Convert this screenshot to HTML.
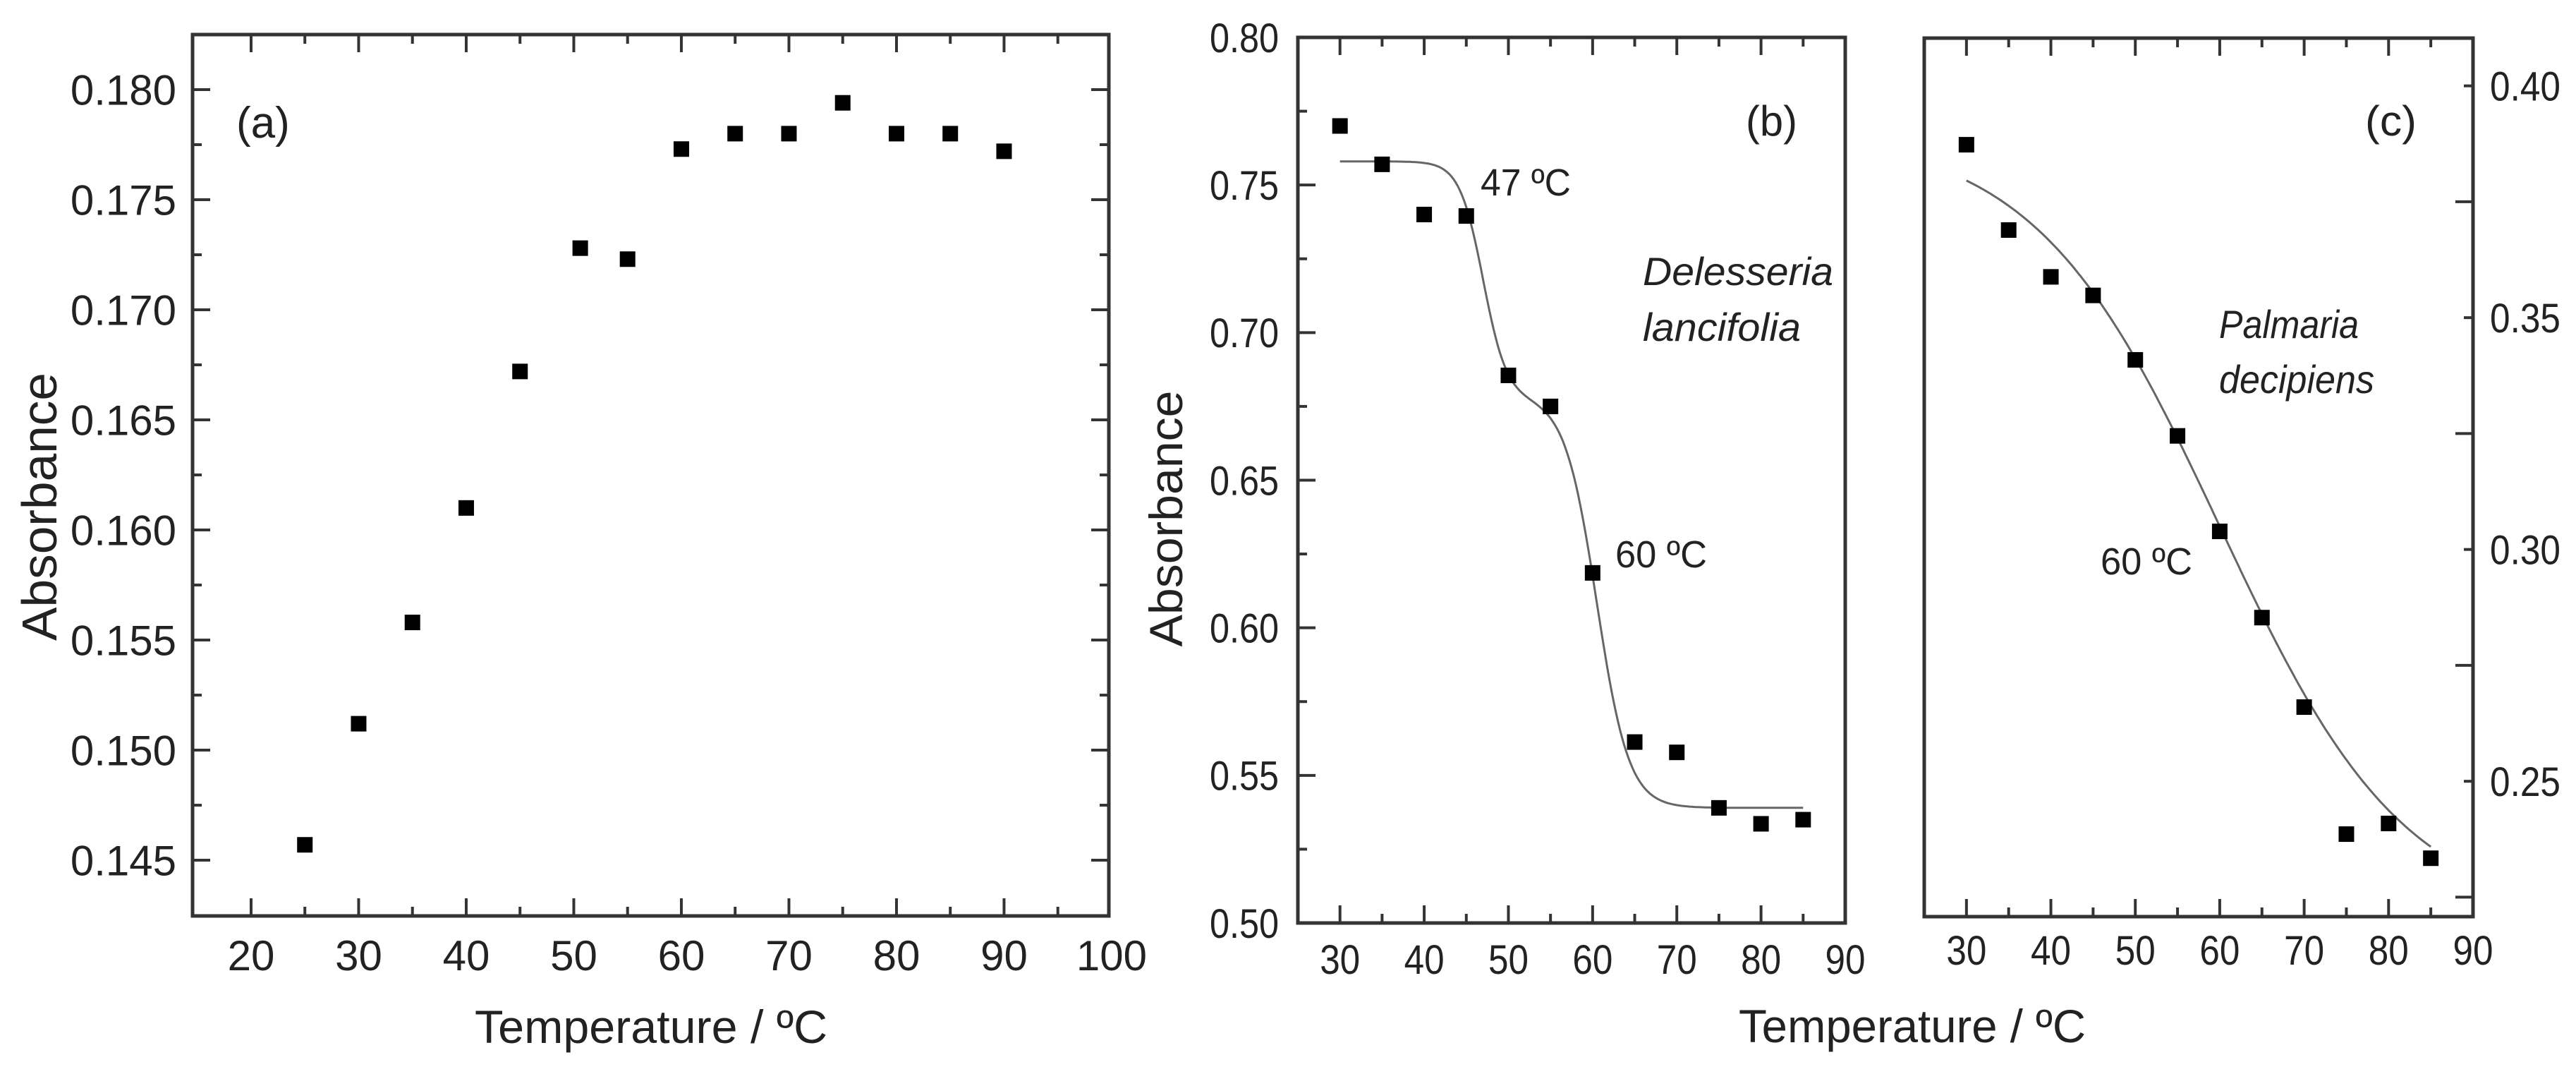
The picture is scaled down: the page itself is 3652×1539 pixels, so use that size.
<!DOCTYPE html>
<html><head><meta charset="utf-8"><style>
html,body{margin:0;padding:0;background:#fff}
svg{display:block}
text{font-family:"Liberation Sans",sans-serif;fill:#222}
.n{font-family:"Liberation Sans Narrow","Liberation Sans",sans-serif}
</style></head><body>
<svg id="fig" width="3652" height="1539" viewBox="0 0 3652 1539" xmlns="http://www.w3.org/2000/svg"></svg>
<script>
// Panel (a) data
const aTemps = [25,30,35,40,45,50.6,55,60,65,70,75,80,85,90];
const aAbs = [0.1457,0.1512,0.1558,0.1610,0.1672,0.1728,0.1723,0.1773,0.1780,0.1780,0.1794,0.1780,0.1780,0.1772];
const aXTicks = [20,30,40,50,60,70,80,90,100];
const aYTicks = [0.145,0.150,0.155,0.160,0.165,0.170,0.175,0.180];
// Panel (b) data
const bTemps = [30,35,40,45,50,55,60,65,70,75,80,85];
const bAbs = [0.770,0.757,0.740,0.7395,0.6855,0.675,0.6186,0.5613,0.5578,0.539,0.5336,0.535];
const bFitParams = [0.758,0.08,47,1.4,0.139,60.5,1.9]; // top, step1, Tm1, w1, step2, Tm2, w2
const bXTicks = [30,40,50,60,70,80,90];
const bYTicks = [0.50,0.55,0.60,0.65,0.70,0.75,0.80];
// Panel (c) data
const cTemps = [30,35,40,45,50,55,60,65,70,75,80,85];
const cAbs = [0.3873,0.3689,0.3588,0.3548,0.3409,0.3245,0.3039,0.2853,0.2660,0.2386,0.2409,0.2334];
const cFitParams = [0.39,0.22,60,11]; // upper, lower, Tm, width
const cXTicks = [30,40,50,60,70,80,90];
const cYTicks = [0.25,0.30,0.35,0.40];

const NS="http://www.w3.org/2000/svg";
const svg=document.getElementById('fig');
function mk(tag,attrs,parent){const e=document.createElementNS(NS,tag);for(const k in attrs)e.setAttribute(k,attrs[k]);(parent||svg).appendChild(e);return e;}
function txt(s,attrs,parent){const e=mk('text',attrs,parent);e.textContent=s;return e;}

function panel(cfg){
  const g=mk('g',{});
  
  
  const X=v=>cfg.x0+(v-cfg.xmin)*(cfg.x1-cfg.x0)/(cfg.xmax-cfg.xmin);
  const Y=v=>cfg.y1-(v-cfg.ymin)*(cfg.y1-cfg.y0)/(cfg.ymax-cfg.ymin);
  const tg=mk('g',{stroke:'#333','stroke-width':4},g);
  
  
  for(let v=cfg.xTickStart;v<=cfg.xmax+1e-9;v+=cfg.xMinor){
    const major=Math.abs((v-cfg.xTickStart)%(2*cfg.xMinor))<1e-6;const L=major?25:13;const px=X(v);
    if(px<cfg.x0+3||px>cfg.x1-3)continue;
    mk('line',{x1:px,x2:px,y1:cfg.y1,y2:cfg.y1-L},tg);
    mk('line',{x1:px,x2:px,y1:cfg.y0,y2:cfg.y0+L},tg);
  }
  for(let v=cfg.yTickStart;v<=cfg.ymax+1e-9;v+=cfg.yMinor){
    const major=Math.abs(Math.round((v-cfg.yTickStart)/cfg.yMinor)%2)===0;const L=major?25:13;const py=Y(v);
    if(py<cfg.y0+3||py>cfg.y1-3)continue;
    if(cfg.leftTicks)mk('line',{x1:cfg.x0,x2:cfg.x0+L,y1:py,y2:py},tg);
    if(cfg.rightTicks)mk('line',{x1:cfg.x1,x2:cfg.x1-L,y1:py,y2:py},tg);
  }
  const fr=mk('rect',{x:cfg.x0,y:cfg.y0,width:cfg.x1-cfg.x0,height:cfg.y1-cfg.y0,fill:'none',stroke:'#333','stroke-width':5},g);
  
  
  cfg.xTicks.forEach(v=>{
    const t=txt(String(v),{x:X(v),y:cfg.xLabelY,'font-size':cfg.fs,'text-anchor':'middle',class:cfg.cls},g);
    if(cfg.xLabelW){t.setAttribute('textLength',cfg.xLabelW);t.setAttribute('lengthAdjust','spacingAndGlyphs');}
    
    
  });
  cfg.yTicks.forEach(v=>{
    const s=v.toFixed(cfg.yDec);
    const t=txt(s,{x:cfg.yLabelX,y:Y(v)+cfg.fs*0.36,'font-size':cfg.fs,'text-anchor':cfg.yAnchor,class:cfg.cls},g);
    if(cfg.yLabelW){t.setAttribute('textLength',cfg.yLabelW);t.setAttribute('lengthAdjust','spacingAndGlyphs');}
    
    
  });
  if(cfg.fit){
    let d='';
    for(let v=cfg.fitFrom;v<=cfg.fitTo+1e-9;v+=0.25){d+=(d?'L':'M')+X(v).toFixed(1)+','+Y(cfg.fit(v)).toFixed(1);}
    const p=mk('path',{d:d,fill:'none',stroke:'#666','stroke-width':3},g);
    
    
  }
  cfg.xs.forEach((v,i)=>{
    const r=mk('rect',{x:X(v)-11,y:Y(cfg.ys[i])-11,width:22,height:22,fill:'#000'},g);
    
    
  });
  return {X,Y,g};
}

const pa=panel({name:'panel-a',x0:273,x1:1572,y0:49,y1:1298,xmin:14.56,xmax:99.74,ymin:0.14247,ymax:0.1825,
  xTickStart:20,xMinor:5,yTickStart:0.145,yMinor:0.0025,leftTicks:true,rightTicks:true,
  xTicks:aXTicks,yTicks:aYTicks,yDec:3,xLabelY:1375,yLabelX:250,yAnchor:'end',fs:60,cls:'',
  xs:aTemps,ys:aAbs});
const pb=panel({name:'panel-b',x0:1840,x1:2616,y0:53,y1:1308,xmin:25,xmax:90,ymin:0.50,ymax:0.80,
  xTickStart:30,xMinor:5,yTickStart:0.50,yMinor:0.025,leftTicks:true,rightTicks:false,
  xTicks:bXTicks,yTicks:bYTicks,yDec:2,xLabelY:1380,yLabelX:1813,yAnchor:'end',fs:58,cls:'n',yLabelW:98,xLabelW:57,
  xs:bTemps,ys:bAbs,fitFrom:30,fitTo:85,
  fit:v=>{const p=bFitParams;return p[0]-p[1]/(1+Math.exp(-(v-p[2])/p[3]))-p[4]/(1+Math.exp(-(v-p[5])/p[6]));}});
const pc=panel({name:'panel-c',x0:2728,x1:3506,y0:54,y1:1299,xmin:25,xmax:90,ymin:0.2208,ymax:0.4103,
  xTickStart:30,xMinor:5,yTickStart:0.225,yMinor:0.025,leftTicks:false,rightTicks:true,
  xTicks:cXTicks,yTicks:cYTicks,yDec:2,xLabelY:1367,yLabelX:3530,yAnchor:'start',fs:58,cls:'n',yLabelW:100,xLabelW:57,
  xs:cTemps,ys:cAbs,fitFrom:30,fitTo:85,
  fit:v=>{const p=cFitParams;return p[1]+(p[0]-p[1])/(1+Math.exp((v-p[2])/p[3]));}});

function label(s,attrs,name,w){
  const t=txt(s,attrs);
  if(w){t.setAttribute('textLength',w);t.setAttribute('lengthAdjust','spacingAndGlyphs');}
  
  
  return t;
}
label('(a)',{x:335,y:195,'font-size':62},'panel-a-label');
label('Absorbance',{x:0,y:0,'font-size':70,'text-anchor':'middle',transform:'translate(80,718) rotate(-90)'},'panel-a-y-axis-title',380);
label('Temperature / ºC',{x:673,y:1478,'font-size':66},'panel-a-x-axis-title',500);
label('Absorbance',{x:0,y:0,'font-size':66,'text-anchor':'middle',class:'n',transform:'translate(1676,735) rotate(-90)'},'panel-b-y-axis-title',363);
label('(b)',{x:2475,y:192,'font-size':60,class:'n'},'panel-b-label',73);
label('47 ºC',{x:2099,y:277,'font-size':54,class:'n'},'tm-47-annotation',128);
label('Delesseria',{x:2329,y:404,'font-size':56,class:'n','font-style':'italic'},'species-delesseria',270);
label('lancifolia',{x:2329,y:483,'font-size':56,class:'n','font-style':'italic'},'species-lancifolia',224);
label('60 ºC',{x:2290,y:804,'font-size':54,class:'n'},'tm-60-annotation-b',130);
label('(c)',{x:3353,y:192,'font-size':60,class:'n'},'panel-c-label',73);
label('Palmaria',{x:3146,y:479,'font-size':56,class:'n','font-style':'italic'},'species-palmaria',198);
label('decipiens',{x:3146,y:557,'font-size':56,class:'n','font-style':'italic'},'species-decipiens',220);
label('60 ºC',{x:2978,y:814,'font-size':54,class:'n'},'tm-60-annotation-c',130);
label('Temperature / ºC',{x:2465,y:1477,'font-size':66,class:'n'},'panel-bc-x-axis-title',492);
</script>
</body></html>
